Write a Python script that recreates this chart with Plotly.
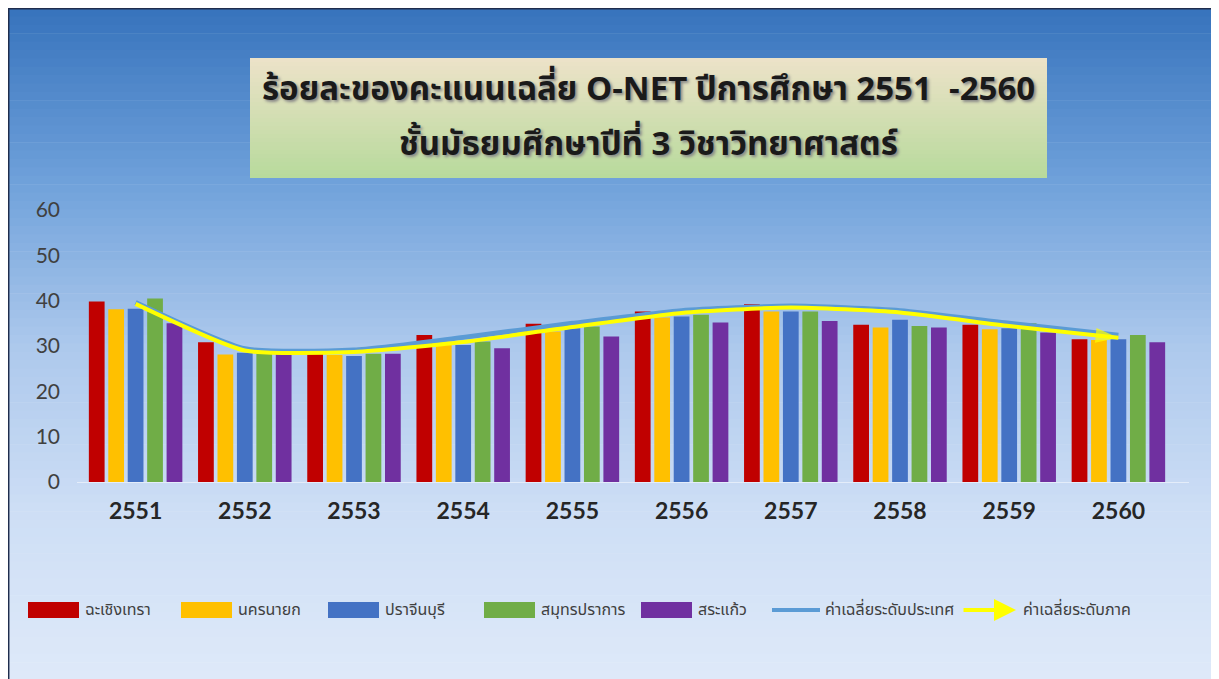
import plotly.graph_objects as go

years = ["2551", "2552", "2553", "2554", "2555", "2556", "2557", "2558", "2559", "2560"]

chachoengsao = [39.8, 30.8, 28.5, 32.4, 34.9, 37.6, 39.2, 34.7, 34.7, 31.5]
nakhonnayok = [38.1, 28.1, 28.0, 31.0, 33.2, 36.3, 37.6, 34.1, 33.7, 31.3]
prachinburi = [38.2, 28.5, 27.8, 30.2, 33.9, 36.5, 37.6, 35.8, 33.9, 31.5]
samutprakan = [40.5, 28.5, 28.3, 31.0, 34.3, 36.9, 37.6, 34.4, 35.0, 32.4]
sakaeo = [35.0, 28.3, 28.3, 29.5, 32.1, 35.2, 35.5, 34.1, 33.0, 30.8]
national_avg = [39.6, 29.4, 29.1, 31.9, 35.0, 37.8, 38.8, 37.8, 35.0, 32.4]
regional_avg = [39.3, 29.0, 28.7, 30.9, 34.2, 37.3, 38.5, 37.4, 34.4, 31.8]

series_names = ["ฉะเชิงเทรา", "นครนายก", "ปราจีนบุรี", "สมุทรปราการ", "สระแก้ว"]
series_vals = [chachoengsao, nakhonnayok, prachinburi, samutprakan, sakaeo]
series_colors = ["#c00000", "#ffc000", "#4472c4", "#70ad47", "#7030a0"]
line_names = ["ค่าเฉลี่ยระดับประเทศ", "ค่าเฉลี่ยระดับภาค"]
line_colors = ["#5b9bd5", "#ffff00"]

title_lines = ["ร้อยละของคะแนนเฉลี่ย O-NET ปีการศึกษา 2551  -2560",
               "ชั้นมัธยมศึกษาปีที่ 3 วิชาวิทยาศาสตร์"]

THAI = "Tahoma, 'Noto Sans Thai', 'Loma', 'Garuda', 'Noto Sans', sans-serif"
NUM = "Lato, Carlito, 'Open Sans', sans-serif"

# page has an 8px body margin; figure coords = screen coords - 8
OFF = 8
W, H = 1211, 671
PL, PR, PT, PB = 77 - OFF, 1189 - OFF, 210 - OFF, 482 - OFF

def px(x):
    return (x - OFF - PL) / (PR - PL)

def py(y):
    return (PB - (y - OFF)) / (PB - PT)

fig = go.Figure()

for name, vals, col in zip(series_names, series_vals, series_colors):
    fig.add_trace(go.Bar(x=years, y=vals, name=name, marker=dict(color=col, line=dict(width=0))))

fig.add_trace(go.Scatter(x=years, y=national_avg, name=line_names[0], mode="lines",
                         line=dict(color=line_colors[0], width=5, shape="spline", smoothing=0.55)))
sizes = [0] * (len(years) - 1) + [24]
fig.add_trace(go.Scatter(x=years, y=regional_avg, name=line_names[1], mode="lines+markers",
                         line=dict(color=line_colors[1], width=4, shape="spline", smoothing=0.55),
                         marker=dict(symbol="arrow", angleref="previous", size=sizes,
                                     color=line_colors[1], line=dict(width=0))))

def lerp(c1, c2, t):
    return tuple(int(round(a + (b - a) * t)) for a, b in zip(c1, c2))

stops = [(0.0, (56, 116, 189)), (0.25, (110, 160, 218)), (0.5, (172, 200, 236)),
         (0.75, (205, 222, 245)), (1.0, (222, 233, 249))]

def grad(t):
    for (t0, c0), (t1, c1) in zip(stops[:-1], stops[1:]):
        if t <= t1:
            return lerp(c0, c1, (t - t0) / (t1 - t0))
    return stops[-1][1]

shapes = []
x0p, x1p, y0p, y1p = 8, 1219, 8, 679
N = 80
for i in range(N):
    ya = y0p + (y1p - y0p) * i / N
    yb = y0p + (y1p - y0p) * (i + 1) / N + 0.6
    c = grad(i / (N - 1))
    shapes.append(dict(type="rect", xref="paper", yref="paper", layer="below",
                       x0=px(x0p), x1=px(x1p), y0=py(yb), y1=py(ya),
                       fillcolor="rgb(%d,%d,%d)" % c, line=dict(width=0)))
shapes.append(dict(type="line", xref="paper", yref="paper", layer="above",
                   x0=px(8), x1=px(1219), y0=py(8.7), y1=py(8.7), line=dict(color="#1f2d4d", width=1.5)))
shapes.append(dict(type="line", xref="paper", yref="paper", layer="above",
                   x0=px(8.7), x1=px(8.7), y0=py(8), y1=py(679), line=dict(color="#1f2d4d", width=1.5)))

# title box gradient
bx0, bx1, by0, by1 = 250, 1047, 58, 178
M = 30
top_c, bot_c = (236, 226, 200), (184, 218, 156)
for i in range(M):
    ya = by0 + (by1 - by0) * i / M
    yb = min(by0 + (by1 - by0) * (i + 1) / M + 0.6, by1)
    c = lerp(top_c, bot_c, i / (M - 1))
    shapes.append(dict(type="rect", xref="paper", yref="paper", layer="below",
                       x0=px(bx0), x1=px(bx1), y0=py(yb), y1=py(ya),
                       fillcolor="rgb(%d,%d,%d)" % c, line=dict(width=0)))

annotations = []
for txt, yy in zip(title_lines, [90, 145]):
    annotations.append(dict(text=txt, xref="paper", yref="paper", x=px(648), y=py(yy),
                            showarrow=False, xanchor="center", yanchor="middle",
                            font=dict(family=THAI, size=33, color="#1a1a1a", weight="bold",
                                      shadow="2px 2px 3px #888")))

# custom legend (wide swatches like the original)
LEG_FONT = dict(family=THAI, size=16, color="#404040")
leg_y = 610
swatch_x = [28, 181, 328, 484, 641]
for name, col, sx in zip(series_names, series_colors, swatch_x):
    shapes.append(dict(type="rect", xref="paper", yref="paper", layer="above",
                       x0=px(sx), x1=px(sx + 51), y0=py(leg_y + 8), y1=py(leg_y - 8),
                       fillcolor=col, line=dict(width=0)))
    annotations.append(dict(text=name, xref="paper", yref="paper", x=px(sx + 55), y=py(leg_y),
                            showarrow=False, xanchor="left", yanchor="middle", font=LEG_FONT))
shapes.append(dict(type="line", xref="paper", yref="paper", layer="above",
                   x0=px(772), x1=px(820), y0=py(leg_y), y1=py(leg_y),
                   line=dict(color=line_colors[0], width=4)))
annotations.append(dict(text=line_names[0], xref="paper", yref="paper", x=px(823), y=py(leg_y),
                        showarrow=False, xanchor="left", yanchor="middle", font=LEG_FONT))
annotations.append(dict(text="", xref="paper", yref="paper", x=px(1016), y=py(leg_y),
                        showarrow=True, ax=-54, ay=0, arrowcolor=line_colors[1], arrowwidth=4,
                        arrowhead=2, arrowsize=1.1))
annotations.append(dict(text=line_names[1], xref="paper", yref="paper", x=px(1021), y=py(leg_y),
                        showarrow=False, xanchor="left", yanchor="middle", font=LEG_FONT))

fig.update_layout(
    width=W, height=H,
    margin=dict(l=PL, r=W - PR, t=PT, b=H - PB, pad=0),
    paper_bgcolor="white", plot_bgcolor="rgba(0,0,0,0)",
    barmode="group", bargap=0.11, bargroupgap=0.19,
    shapes=shapes, annotations=annotations,
    showlegend=False,
    xaxis=dict(type="category", showgrid=False, showline=False, ticks="",
               tickfont=dict(family=NUM, size=23, color="#262626", weight="bold"), ticklabelstandoff=13),
    yaxis=dict(range=[0, 60], dtick=10, showgrid=False,
               zeroline=True, zerolinecolor="rgba(255,255,255,0.5)", zerolinewidth=1,
               tickfont=dict(family=NUM, size=21, color="#404040"), ticklabelstandoff=16),
)

fig.write_html("out.html")
